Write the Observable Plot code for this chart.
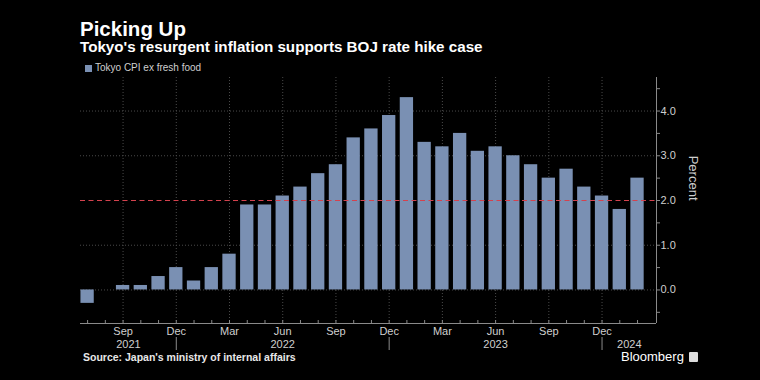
<!DOCTYPE html>
<html>
<head>
<meta charset="utf-8">
<script src="https://cdn.jsdelivr.net/npm/d3@7"></script>
<script src="https://cdn.jsdelivr.net/npm/@observablehq/plot@0.6"></script>
<style>
  html, body { margin: 0; padding: 0; background: #000; }
  #wrap { position: relative; width: 760px; height: 380px; background: #000; overflow: hidden; font-family: "Liberation Sans", Arial, sans-serif; }
  #title { position: absolute; left: 80px; top: 17px; color: #fff; font-weight: bold; font-size: 20.5px; line-height: 24px; }
  #subtitle { position: absolute; left: 80px; top: 38px; color: #fff; font-weight: bold; font-size: 15.2px; line-height: 18px; }
  #legend { position: absolute; left: 85px; top: 62px; color: #cfcfcf; font-size: 10px; line-height: 12px; display: flex; align-items: center; }
  #legend .sw { width: 7px; height: 7px; background: #7a90b3; margin-right: 3px; display: inline-block; }
  #chart { position: absolute; left: 0; top: 72px; }
  #source { position: absolute; left: 83px; top: 351px; color: #e8e8e8; font-weight: bold; font-size: 10.5px; line-height: 12px; }
  #brand { position: absolute; left: 621px; top: 349px; color: #fff; font-size: 13px; line-height: 16px; display: flex; align-items: center; }
  #brand .ico { display: inline-block; width: 9px; height: 10px; background: #ddd; margin-left: 5px; border-radius: 1px; }
</style>
</head>
<body>
<div id="wrap">
  <div id="title">Picking Up</div>
  <div id="subtitle">Tokyo's resurgent inflation supports BOJ rate hike case</div>
  <div id="legend"><span class="sw"></span>Tokyo CPI ex fresh food</div>
  <div id="chart"></div>
  <div id="source">Source: Japan's ministry of internal affairs</div>
  <div id="brand">Bloomberg<span class="ico"></span></div>
</div>
<script>
const months = [
  "2021-07","2021-08","2021-09","2021-10","2021-11","2021-12",
  "2022-01","2022-02","2022-03","2022-04","2022-05","2022-06",
  "2022-07","2022-08","2022-09","2022-10","2022-11","2022-12",
  "2023-01","2023-02","2023-03","2023-04","2023-05","2023-06",
  "2023-07","2023-08","2023-09","2023-10","2023-11","2023-12",
  "2024-01","2024-02"
];
const cpiValues = [
  -0.3, 0.0, 0.1, 0.1, 0.3, 0.5,
  0.2, 0.5, 0.8, 1.9, 1.9, 2.1,
  2.3, 2.6, 2.8, 3.4, 3.6, 3.9,
  4.3, 3.3, 3.2, 3.5, 3.1, 3.2,
  3.0, 2.8, 2.5, 2.7, 2.3, 2.1,
  1.8, 2.5
];
const quarterMonths = ["2021-09","2021-12","2022-03","2022-06","2022-09","2022-12","2023-03","2023-06","2023-09","2023-12"];
const quarterLabels = ["Sep","Dec","Mar","Jun","Sep","Dec","Mar","Jun","Sep","Dec"];
const yearLabels = ["2021","2022","2023","2024"];
const yearSeparators = ["2021-12","2022-12","2023-12"];
const yTicks = [0, 1, 2, 3, 4];
const yMinorTicks = [-0.5, 0.5, 1.5, 2.5, 3.5, 4.5];
const target = 2.0;

const xDomain = [-0.4, 32.07];
const yDomain = [-0.75, 4.75];

const idx = m => months.indexOf(m);
const data = months.map((m, i) => ({month: m, i, value: cpiValues[i]}));
const quarters = quarterMonths.map((m, k) => ({i: idx(m), label: quarterLabels[k]}));
const seps = yearSeparators.map(idx);
const bounds = [xDomain[0], ...seps, xDomain[1]];
const years = yearLabels.map((y, k) => ({x: (bounds[k] + bounds[k + 1]) / 2, label: y}));

const grid = "#4a4a4a";
const axisCol = "#8a8a8a";
const textCol = "#cfcfcf";

const plot = Plot.plot({
  width: 760,
  height: 280,
  marginLeft: 80,
  marginRight: 104,
  marginTop: 5,
  marginBottom: 29,
  style: {background: "transparent", color: textCol, fontFamily: "Liberation Sans, Arial, sans-serif", fontSize: "11px"},
  x: {type: "linear", domain: xDomain, axis: null},
  y: {domain: yDomain, axis: null},
  marks: [
    Plot.ruleX(quarters, {x: "i", stroke: grid, strokeDasharray: "1,2"}),
    Plot.ruleY([0, 1, 3, 4], {stroke: grid, strokeDasharray: "1,2"}),
    Plot.rectY(data, {x1: d => d.i - 0.375, x2: d => d.i + 0.375, y1: 0, y2: "value", fill: "#7a90b3"}),
    Plot.ruleY([target], {stroke: "#d4424e", strokeWidth: 1.2, strokeDasharray: "5,3.5"}),
    Plot.ruleY([yDomain[0]], {stroke: axisCol}),
    Plot.ruleX([xDomain[1]], {stroke: axisCol}),
    Plot.ruleX(data, {x: "i", stroke: axisCol, insetTop: 243}),
    Plot.ruleX(seps, {stroke: axisCol, insetTop: 260, insetBottom: -27}),
    Plot.text(quarters, {x: "i", text: "label", frameAnchor: "bottom", dy: 8, lineAnchor: "middle", fill: textCol, fontSize: 11}),
    Plot.text(years, {x: "x", text: "label", frameAnchor: "bottom", dy: 21, lineAnchor: "middle", fill: textCol, fontSize: 11}),
    Plot.axisY({anchor: "right", ticks: yTicks, tickFormat: d3.format(".1f"), tickSize: 3, tickPadding: 1, stroke: axisCol, color: textCol, fontSize: 11, label: null}),
    Plot.axisY({anchor: "right", ticks: yMinorTicks, tickFormat: () => "", tickSize: 3, stroke: axisCol, label: null}),
    Plot.text(["Percent"], {frameAnchor: "right", dx: 37, rotate: 90, fill: textCol, fontSize: 13})
  ]
});
document.getElementById("chart").appendChild(plot);
</script>
</body>
</html>
